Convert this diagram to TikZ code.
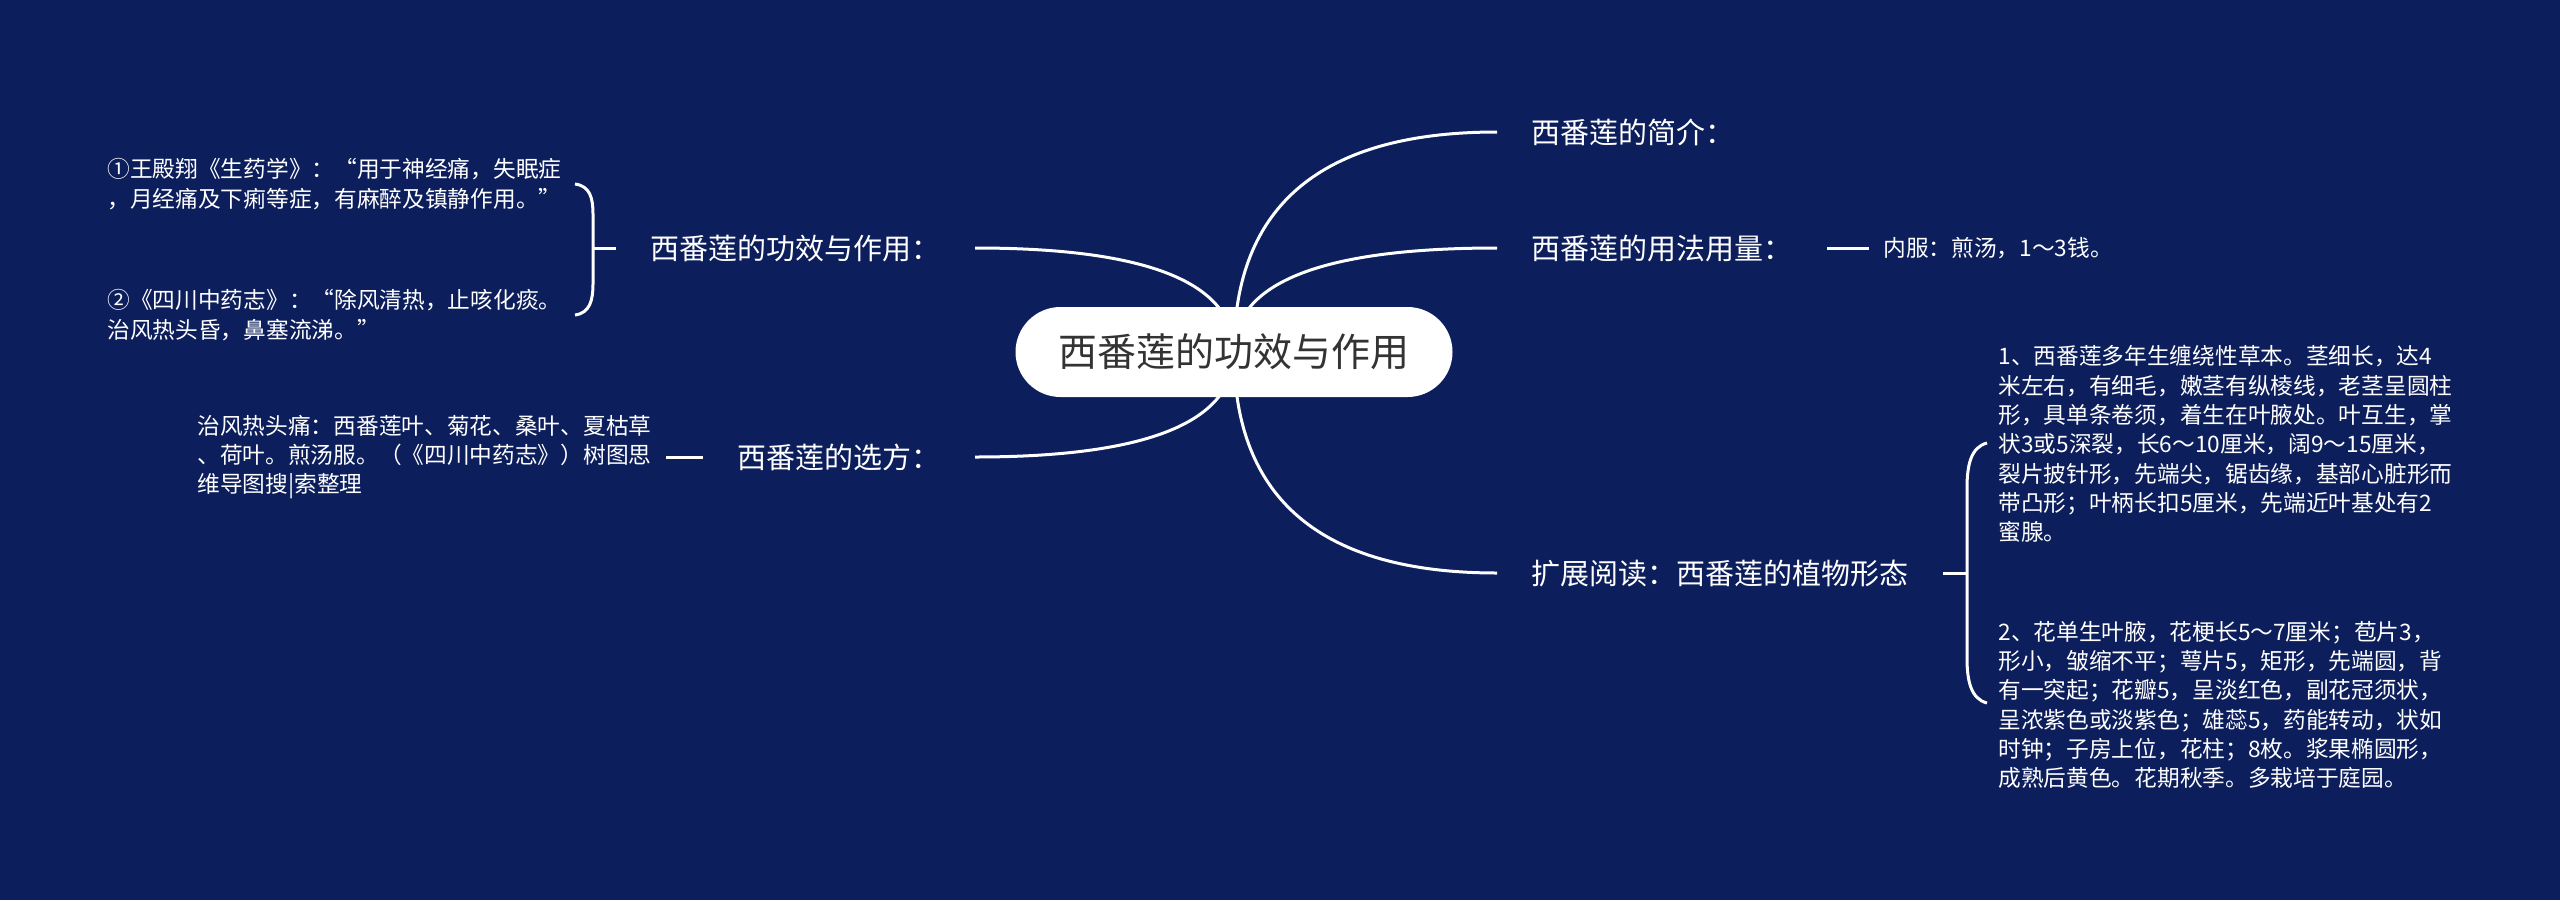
\documentclass[tikz,border=0pt]{standalone}
\usepackage{fontspec}
\setmainfont{Noto Sans CJK SC}
\usetikzlibrary{calc,backgrounds}

\definecolor{navy}{HTML}{0C1E5B}
\definecolor{ink}{HTML}{333333}

\tikzset{
  root/.style={fill=white, text=ink, rounded corners=22.5pt, minimum width=218.5pt,
    minimum height=45pt, font=\fontsize{19.5pt}{23pt}\selectfont},
  branch/.style={text=white, inner xsep=17pt, inner ysep=0pt, font=\fontsize{14.5pt}{17pt}\selectfont},
  leaf/.style={text=white, inner xsep=7pt, inner ysep=0pt, align=left, font=\fontsize{11.35pt}{14.65pt}\selectfont},
  link/.style={white, line width=1.5pt},
}

\begin{document}
\begin{tikzpicture}[x=0.5pt,y=-0.5pt]
            \node[root] (title) at (1234,352) {西番莲的功效与作用};

            \node[branch, anchor=west] (jianjie) at (1497,132) {西番莲的简介：};
            \node[branch, anchor=west] (yongfa) at (1497,248) {西番莲的用法用量：};
            \node[branch, anchor=west] (kuozhan) at (1497,573) {扩展阅读：西番莲的植物形态};
            \node[branch, anchor=east] (gongxiao) at (975,248) {西番莲的功效与作用：};
            \node[branch, anchor=east] (xuanfang) at (975,457) {西番莲的选方：};

            \node[leaf, anchor=west] (neifu) at (1869,248) {内服：煎汤，1～3钱。};
            \node[leaf, anchor=west] (xingtai1) at (1984,444) {1、西番莲多年生缠绕性草本。茎细长，达4\\米左右，有细毛，嫩茎有纵棱线，老茎呈圆柱\\形，具单条卷须，着生在叶腋处。叶互生，掌\\状3或5深裂，长6～10厘米，阔9～15厘米，\\裂片披针形，先端尖，锯齿缘，基部心脏形而\\带凸形；叶柄长扣5厘米，先端近叶基处有2\\蜜腺。};
            \node[leaf, anchor=west] (xingtai2) at (1984,705) {2、花单生叶腋，花梗长5～7厘米；苞片3，\\形小，皱缩不平；萼片5，矩形，先端圆，背\\有一突起；花瓣5，呈淡红色，副花冠须状，\\呈浓紫色或淡紫色；雄蕊5，药能转动，状如\\时钟；子房上位，花柱；8枚。浆果椭圆形，\\成熟后黄色。花期秋季。多栽培于庭园。};
            \node[leaf, anchor=west] (gongxiao1) at (93,184) {①王殿翔《生药学》：“用于神经痛，失眠症\\，月经痛及下痢等症，有麻醉及镇静作用。”};
            \node[leaf, anchor=west] (gongxiao2) at (93,315) {②《四川中药志》：“除风清热，止咳化痰。\\治风热头昏，鼻塞流涕。”};
            \node[leaf, anchor=west] (xuanfang1) at (183,457) {治风热头痛：西番莲叶、菊花、桑叶、夏枯草\\、荷叶。煎汤服。（《四川中药志》）树图思\\维导图搜|索整理};

            \coordinate (lbrace) at (593,248);
            \coordinate (rbrace) at (1967,573);

            \begin{pgfonlayer}{background}
            \fill[navy] (0,0) rectangle (2560,900);
            \foreach \b in {jianjie,yongfa,kuozhan}
              \draw[link] (title.center) .. controls ($(title.center)!0.667!(title.center|-\b.west)$) and ($(\b.west)!0.667!(title.center|-\b.west)$) .. (\b.west);
            \foreach \b in {gongxiao,xuanfang}
              \draw[link] (title.center) .. controls ($(title.center)!0.667!(title.center|-\b.east)$) and ($(\b.east)!0.667!(title.center|-\b.east)$) .. (\b.east);
            \end{pgfonlayer}

            \draw[link] (yongfa.east) -- (neifu.west);
            \draw[link] (xuanfang.west) -- (xuanfang1.east);
            \draw[link] (kuozhan.east) -- (rbrace);
            \draw[link] (gongxiao.west) -- (lbrace);
            \draw[link] (575,184) .. controls (590,186) and (593,198) .. (593,214) -- (593,284) .. controls (593,300) and (590,313) .. (575,315);
            \draw[link] (1987,443) .. controls (1971,447) and (1967,465) .. (1967,488) -- (1967,658) .. controls (1967,681) and (1971,699) .. (1987,703);
\end{tikzpicture}
\end{document}
